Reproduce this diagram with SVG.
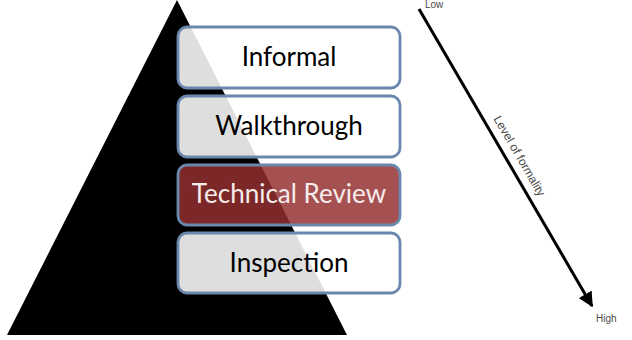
<svg xmlns="http://www.w3.org/2000/svg" width="632" height="340" viewBox="0 0 632 340">
<defs>
<style>
.box{stroke:#6a88ad;stroke-width:2.8}
.light{fill:#ffffff;fill-opacity:0.87}
.red{fill:#953030;fill-opacity:0.84}
.lbl{font-family:Lato,"Open Sans",sans-serif;font-size:26px;text-anchor:middle}
.small{font-family:"Liberation Sans",Arial,sans-serif;font-size:10px;fill:#4a4a4a}
</style>
<marker id="ah" viewBox="0 0 10 10" refX="9" refY="5" markerWidth="5" markerHeight="5" orient="auto" markerUnits="strokeWidth">
<path d="M0,0 L10,5 L0,10 Z" fill="#000"/>
</marker>
</defs>
<rect width="632" height="340" fill="#fff"/>
<g id="pyramid"><polygon points="177,0 347,335 7,335" fill="#000"/></g>
<g id="informal"><rect class="box light" x="178" y="27" width="222" height="61" rx="9"/><text class="lbl" x="289" y="66" fill="#000">Informal</text></g>
<g id="walkthrough"><rect class="box light" x="178" y="96" width="222" height="61" rx="9"/><text class="lbl" x="289" y="135" fill="#000">Walkthrough</text></g>
<g id="technical-review"><rect class="box red" x="178" y="165" width="222" height="60" rx="9"/><text class="lbl" x="289" y="203" fill="#f6ecec">Technical Review</text></g>
<g id="inspection"><rect class="box light" x="178" y="233" width="222" height="60" rx="9"/><text class="lbl" x="289" y="272" fill="#000">Inspection</text></g>
<g id="connectors"><line x1="419" y1="9" x2="592" y2="306" stroke="#000" stroke-width="3" marker-end="url(#ah)"/></g>
<g id="labels">
<text class="small" x="425" y="8">Low</text>
<text class="small" x="596" y="322">High</text>
<text class="small" style="font-size:12px" text-anchor="middle" transform="translate(516,158) rotate(59.8)">Level of formality</text>
</g>
</svg>
